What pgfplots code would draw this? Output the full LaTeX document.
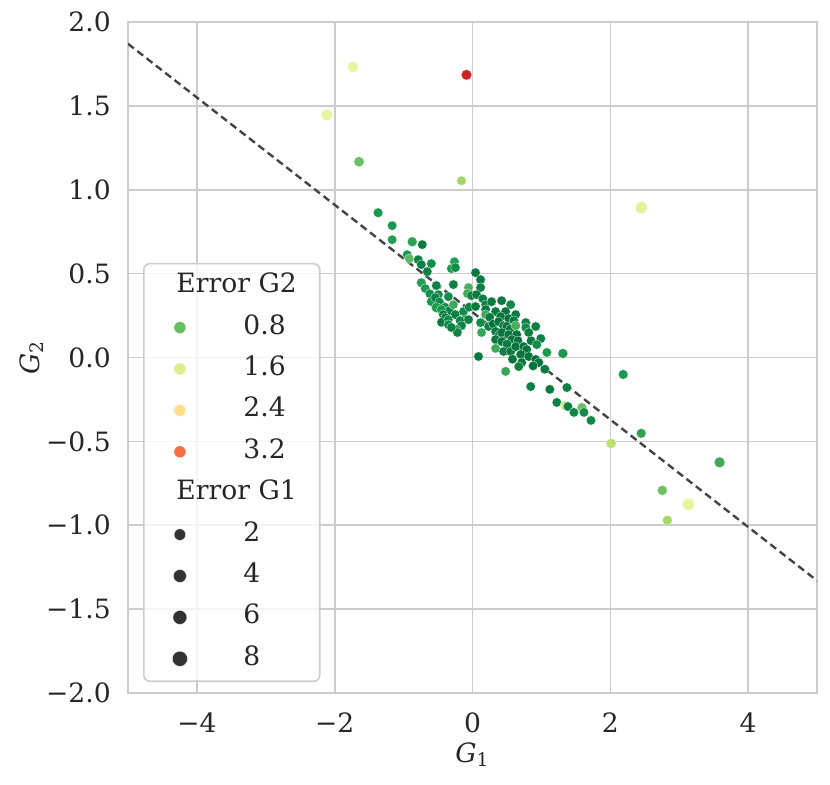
\documentclass[border=0pt]{standalone}
\usepackage{fontspec}
\setmainfont{DejaVu Serif}
\usepackage{pgfplots}
\pgfplotsset{compat=1.18}
\usepackage{pgfplotstable}
\definecolor{gridc}{HTML}{CCCCCC}
\definecolor{textc}{HTML}{262626}
\definecolor{cA}{HTML}{66BD63}
\definecolor{cB}{HTML}{D9EF8B}
\definecolor{cC}{HTML}{FEE08B}
\definecolor{cD}{HTML}{F46D43}
\definecolor{dk}{HTML}{333333}
\definecolor{linec}{HTML}{444444}

\pgfplotstableread{
x y e2 e1
-1.166 0.786 0.40 1.5
-1.166 0.702 0.45 1.5
-0.875 0.690 0.50 2.5
-0.729 0.673 0.15 1.5
-0.948 0.613 0.40 1.5
-0.918 0.589 0.75 1.5
-0.787 0.583 0.20 1.5
-0.743 0.554 0.20 1.5
-0.598 0.560 0.30 1.5
-0.262 0.571 0.45 1.5
-0.306 0.530 0.40 1.5
-0.248 0.536 0.30 1.5
-0.656 0.512 0.20 1.5
0.044 0.506 0.15 1.5
0.117 0.464 0.15 1.5
0.117 0.417 0.20 1.5
-0.277 0.435 0.20 1.5
-0.743 0.446 0.45 2.0
-0.685 0.411 0.40 1.5
-0.525 0.429 0.20 1.5
-0.620 0.380 0.35 1.5
-0.058 0.417 0.65 1.5
-0.073 0.381 0.60 1.5
-0.015 0.369 0.20 1.5
0.058 0.375 0.15 1.5
0.150 0.350 0.20 1.5
-0.496 0.375 0.30 1.5
-0.598 0.333 0.40 1.5
-0.539 0.357 0.20 1.5
-0.480 0.330 0.25 1.5
-0.350 0.363 0.30 1.5
-0.400 0.300 0.30 1.5
-0.330 0.280 0.20 1.5
-0.525 0.298 0.45 3.0
-0.452 0.286 0.40 1.5
-0.423 0.256 0.20 1.5
-0.394 0.238 0.15 1.5
-0.450 0.210 0.15 1.5
-0.350 0.226 0.30 1.5
-0.248 0.256 0.20 1.5
-0.277 0.315 0.60 1.5
-0.131 0.274 0.30 1.5
-0.050 0.300 0.25 1.5
-0.102 0.226 0.30 1.5
-0.180 0.220 0.25 1.5
-0.058 0.226 0.20 1.5
-0.160 0.190 0.20 1.5
-0.233 0.167 0.40 1.5
-0.219 0.149 0.20 1.5
-0.350 0.196 0.30 1.5
-0.306 0.179 0.20 1.5
0.044 0.304 0.15 1.5
0.190 0.315 0.20 1.5
0.190 0.286 0.15 1.5
0.277 0.333 0.15 1.5
0.423 0.339 0.15 1.5
0.554 0.315 0.25 1.5
0.335 0.274 0.15 1.5
0.481 0.274 0.10 1.5
0.190 0.256 0.60 1.5
0.250 0.240 0.15 1.5
0.408 0.244 0.10 1.5
0.525 0.232 0.10 1.5
0.627 0.256 0.15 1.5
0.600 0.220 0.15 1.5
0.117 0.208 0.30 1.5
0.233 0.185 0.20 1.5
0.300 0.200 0.10 1.5
0.379 0.214 0.10 1.5
0.450 0.190 0.15 1.5
0.496 0.185 0.10 1.5
0.550 0.170 0.10 1.5
0.627 0.190 0.65 2.0
0.773 0.208 0.20 1.5
0.773 0.179 0.30 1.5
0.918 0.185 0.20 1.5
0.131 0.149 0.55 1.5
0.335 0.155 0.15 1.5
0.380 0.130 0.10 1.5
0.423 0.149 0.10 1.5
0.525 0.137 0.10 1.5
0.641 0.137 0.10 1.5
0.335 0.107 0.15 1.5
0.423 0.095 0.10 1.5
0.569 0.107 0.10 1.5
0.660 0.100 0.10 1.5
0.500 0.080 0.15 1.5
0.816 0.149 0.20 1.5
0.850 0.100 0.15 1.5
0.991 0.113 0.20 1.5
0.933 0.077 0.30 1.5
0.335 0.054 0.60 1.5
0.452 0.036 0.20 1.5
0.554 0.036 0.15 1.5
0.627 0.065 0.10 1.5
0.743 0.065 0.10 1.5
0.787 0.048 0.10 1.5
0.700 0.018 0.10 1.5
0.580 -0.010 0.10 1.5
0.816 0.006 0.10 1.5
0.918 -0.012 0.05 1.5
0.962 -0.030 0.10 1.5
0.880 -0.050 0.10 1.5
1.050 -0.070 0.15 1.5
0.714 -0.030 0.10 1.5
0.671 -0.054 0.20 1.5
0.481 -0.083 0.55 1.5
0.087 0.006 0.15 1.5
1.079 0.030 0.40 1.5
1.312 0.024 0.40 2.5
0.845 -0.173 0.20 1.5
1.122 -0.190 0.15 1.5
1.370 -0.179 0.20 1.5
1.224 -0.268 0.20 1.5
1.341 -0.286 1.50 2.5
1.385 -0.292 0.20 1.5
1.472 -0.327 0.25 1.5
1.589 -0.298 0.85 2.0
1.618 -0.327 0.30 1.5
1.720 -0.375 0.25 1.5
2.187 -0.101 0.40 2.0
2.449 -0.452 0.50 2.0
2.012 -0.512 1.35 3.0
3.586 -0.625 0.60 4.5
2.755 -0.792 0.85 2.5
3.134 -0.875 1.75 7.5
2.828 -0.970 1.20 2.5
-1.735 1.732 1.75 5.5
-2.114 1.446 1.75 6.0
-0.087 1.685 3.70 4.0
-1.647 1.167 0.85 3.5
-0.160 1.054 1.15 1.5
2.449 0.893 1.70 7.5
-1.370 0.863 0.40 2.0
}\pts

\begin{document}
\fontsize{13.3}{16}\selectfont
\begin{tikzpicture}
\useasboundingbox (-64pt,-45.5pt) rectangle (351pt,346.5pt);
\begin{axis}[
  scale only axis, width=344.5pt, height=335.5pt,
  xmin=-5, xmax=5, ymin=-2, ymax=2,
  xtick={-4,-2,0,2,4}, xticklabels={−4,−2,0,2,4},
  ytick={-2,-1.5,-1,-0.5,0,0.5,1,1.5,2},
  yticklabels={−2.0,−1.5,−1.0,−0.5,0.0,0.5,1.0,1.5,2.0},
  grid=major, grid style={gridc, line width=0.8pt},
  axis line style={gridc, line width=1pt},
  major tick length=0pt,
  tick label style={font=\fontsize{13.3}{16}\selectfont, text=textc},
  xticklabel style={yshift=-5pt},
  yticklabel style={xshift=-4pt},
  xlabel={\textit{G}\textsubscript{1}},
  ylabel={\textit{G}\textsubscript{2}},
  label style={font=\fontsize{13.3}{16}\selectfont, text=textc},
  xlabel style={at={(axis description cs:0.5,-0.092)}, anchor=center},
  ylabel style={at={(axis description cs:-0.14,0.5)}, anchor=center},
  colormap={rdylgnr}{rgb255(0)=(0,104,55) rgb255(1)=(26,152,80) rgb255(2)=(102,189,99) rgb255(3)=(166,217,106) rgb255(4)=(217,239,139) rgb255(5)=(255,255,191) rgb255(6)=(254,224,139) rgb255(7)=(253,174,97) rgb255(8)=(244,109,67) rgb255(9)=(215,48,39) rgb255(10)=(165,0,38)},
  point meta min=0, point meta max=4,
  legend cell align=left,
  legend style={at={(0.0218,0.641)}, anchor=north west,
    draw=gridc, line width=0.8pt, rounded corners=3pt,
    fill=white, fill opacity=0.8, draw opacity=1, text opacity=1,
    inner xsep=9.5pt, inner ysep=3pt, row sep=4.2pt, column sep=26pt,
    nodes={inner sep=2pt, text height=9.5pt, text depth=3pt},
    font=\fontsize{13.3}{16}\selectfont, text=textc},
]
\addplot[linec, line width=1.2pt, dash pattern=on 3.7pt off 2.2pt, forget plot]
  coordinates {(-5,1.87) (5,-1.33)};
\addplot[scatter, only marks, mark=*, forget plot,
  scatter src=explicit,
  scatter/use mapped color={draw=white, fill=mapped color},
  visualization depends on={sqrt(4.8+0.55*\thisrow{e1}) \as \msize},
  scatter/@pre marker code/.append style={/tikz/mark size=\msize pt},
  mark options={line width=0.12pt}]
  table[x=x, y=y, meta=e2] {\pts};

\addlegendimage{empty legend}
\addlegendentry{\hspace*{-33.5pt}Error G2}
\addlegendimage{only marks, mark=*, mark size=3.0pt, mark options={draw=white, fill=cA, line width=0.15pt, fill opacity=1}}
\addlegendentry{0.8}
\addlegendimage{only marks, mark=*, mark size=3.0pt, mark options={draw=white, fill=cB, line width=0.15pt, fill opacity=1}}
\addlegendentry{1.6}
\addlegendimage{only marks, mark=*, mark size=3.0pt, mark options={draw=white, fill=cC, line width=0.15pt, fill opacity=1}}
\addlegendentry{2.4}
\addlegendimage{only marks, mark=*, mark size=3.0pt, mark options={draw=white, fill=cD, line width=0.15pt, fill opacity=1}}
\addlegendentry{3.2}
\addlegendimage{empty legend}
\addlegendentry{\hspace*{-33.5pt}Error G1}
\addlegendimage{only marks, mark=*, mark size=2.9pt, mark options={draw=white, fill=dk, line width=0.15pt, fill opacity=1}}
\addlegendentry{2}
\addlegendimage{only marks, mark=*, mark size=3.25pt, mark options={draw=white, fill=dk, line width=0.15pt, fill opacity=1}}
\addlegendentry{4}
\addlegendimage{only marks, mark=*, mark size=3.5pt, mark options={draw=white, fill=dk, line width=0.15pt, fill opacity=1}}
\addlegendentry{6}
\addlegendimage{only marks, mark=*, mark size=3.8pt, mark options={draw=white, fill=dk, line width=0.15pt, fill opacity=1}}
\addlegendentry{8}
\end{axis}
\end{tikzpicture}
\end{document}
